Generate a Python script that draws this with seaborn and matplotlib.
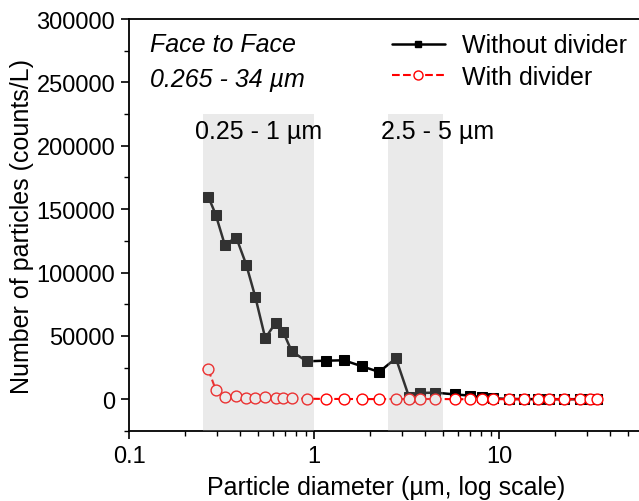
import matplotlib
matplotlib.use("Agg")
import matplotlib.pyplot as plt
import matplotlib.ticker as mticker
from matplotlib.lines import Line2D
import seaborn as sns

# particle diameter bins (um)
diameter = [0.268, 0.294, 0.329, 0.380, 0.430, 0.482, 0.545, 0.621, 0.683, 0.757,
            0.913, 1.166, 1.45, 1.82, 2.25, 2.77, 3.26, 3.74, 4.51, 5.76,
            7.0, 8.06, 9.25, 11.3, 13.7, 16.3, 18.6, 22.5, 27.4, 31.0, 33.8]

without_divider = [160000, 145800, 122100, 127600, 106300, 80500, 48200, 60500, 52900, 37900,
                   30000, 30500, 30800, 26000, 21600, 32400, 2000, 5000, 5300, 3900,
                   2900, 1600, 800, 300, 200, 100, 100, 100, 100, 100, 100]

with_divider = [23700, 7700, 1600, 2900, 1300, 1300, 2100, 1000, 800, 800,
                500, 300, 300, 200, 200, 300, 200, 200, 300, 100,
                100, 100, 100, 100, 100, 100, 100, 100, 100, 100, 100]

size_ranges = [(0.25, 1.0), (2.5, 5.0)]
range_labels = ["0.25 - 1 \u00b5m", "2.5 - 5 \u00b5m"]
range_label_x = [0.50, 4.63]

sns.set_style("ticks")
plt.rcParams["font.family"] = ["Liberation Sans", "DejaVu Sans"]
plt.rcParams["text.color"] = "black"
plt.rcParams["axes.labelcolor"] = "black"

fig = plt.figure(figsize=(6.39, 5.02), dpi=100)
ax = fig.add_axes([0.2019, 0.1394, 0.8044, 0.8207])

sns.lineplot(x=diameter, y=without_divider, ax=ax, color="black", linewidth=1.8,
             marker="s", markersize=6.5, markeredgecolor="black", markerfacecolor="black",
             sort=False, estimator=None, zorder=3)
sns.lineplot(x=diameter, y=with_divider, ax=ax, color="red", linewidth=1.5,
             linestyle="--", marker="o", markersize=7.8, markeredgecolor="red",
             markerfacecolor="white", markeredgewidth=1.0, sort=False, estimator=None, zorder=4)

# shaded size ranges drawn over the data
for (lo, hi), lab, lx in zip(size_ranges, range_labels, range_label_x):
    ax.axvspan(lo, hi, ymin=0, ymax=(225000 + 25000) / 325000, color="#b7b7b7",
               alpha=0.28, linewidth=0, zorder=5)
    ax.text(lx, 211600, lab, ha="center", va="center", fontsize=18, zorder=6)

ax.set_xscale("log")
ax.set_xlim(0.1, 60)
ax.set_ylim(-25000, 300000)
ax.xaxis.set_major_locator(mticker.FixedLocator([0.1, 1, 10]))
ax.xaxis.set_major_formatter(mticker.FixedFormatter(["0.1", "1", "10"]))
ax.xaxis.set_minor_locator(mticker.LogLocator(base=10, subs=range(2, 10)))
ax.xaxis.set_minor_formatter(mticker.NullFormatter())
ax.yaxis.set_major_locator(mticker.MultipleLocator(50000))
ax.yaxis.set_minor_locator(mticker.MultipleLocator(25000))
ax.yaxis.set_major_formatter(mticker.FormatStrFormatter("%d"))

ax.tick_params(which="major", direction="out", length=6, width=1.2, labelsize=17,
               colors="black", pad=4)
ax.tick_params(which="minor", direction="out", length=3.5, width=1.0, colors="black")
for s in ax.spines.values():
    s.set_linewidth(1.3)
    s.set_color("black")

ax.set_xlabel("Particle diameter (\u00b5m, log scale)", fontsize=18, labelpad=5.5)
ax.set_ylabel("Number of particles (counts/L)", fontsize=18, labelpad=2)

ax.text(0.041, 0.94, "Face to Face", transform=ax.transAxes, fontsize=18,
        style="italic", ha="left", va="center")
ax.text(0.041, 0.855, "0.265 - 34 \u00b5m", transform=ax.transAxes, fontsize=18,
        style="italic", ha="left", va="center")

handles = [
    Line2D([], [], color="black", linewidth=1.8, marker="s", markersize=5),
    Line2D([], [], color="red", linewidth=1.5, linestyle="--", marker="o",
           markersize=6.5, markerfacecolor="white", markeredgecolor="red"),
]
ax.legend(handles, ["Without divider", "With divider"], loc="upper left",
          bbox_to_anchor=(0.512, 0.965), frameon=False, fontsize=18,
          borderpad=0, borderaxespad=0, labelcolor="black",
          handlelength=2.1, handletextpad=0.7, labelspacing=0.3)

plt.savefig("out.png", dpi=100)
plt.close()
